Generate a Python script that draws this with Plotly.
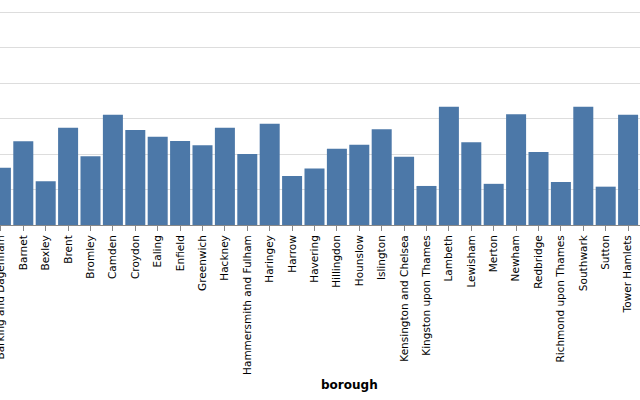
import plotly.graph_objects as go

boroughs = [
    "Barking and Dagenham", "Barnet", "Bexley", "Brent", "Bromley", "Camden",
    "Croydon", "Ealing", "Enfield", "Greenwich", "Hackney",
    "Hammersmith and Fulham", "Haringey", "Harrow", "Havering", "Hillingdon",
    "Hounslow", "Islington", "Kensington and Chelsea", "Kingston upon Thames",
    "Lambeth", "Lewisham", "Merton", "Newham", "Redbridge",
    "Richmond upon Thames", "Southwark", "Sutton", "Tower Hamlets",
]
values = [
    16.1, 23.6, 12.3, 27.4, 19.4, 31.1,
    26.8, 24.9, 23.7, 22.5, 27.4,
    20.0, 28.5, 13.8, 15.9, 21.5,
    22.6, 27.0, 19.2, 11.0,
    33.3, 23.3, 11.6, 31.2, 20.6,
    12.1, 33.3, 10.8, 31.1,
]

fig = go.Figure(
    go.Bar(
        x=boroughs,
        y=values,
        marker=dict(color="#4c78a8", line=dict(width=0)),
        hoverinfo="skip",
    )
)

fig.update_layout(
    width=640,
    height=400,
    margin=dict(l=0, r=0, t=11, b=175, autoexpand=False),
    plot_bgcolor="white",
    paper_bgcolor="white",
    bargap=0.107,
    showlegend=False,
    font=dict(family="DejaVu Sans", size=10.5, color="black"),
    annotations=[
        dict(
            text="<b>borough</b>",
            xref="paper", yref="paper",
            x=349 / 640, y=(225 - 385) / 214,
            xanchor="center", yanchor="middle",
            showarrow=False,
            font=dict(family="DejaVu Sans", size=12, color="black"),
        )
    ],
)

fig.update_xaxes(
    type="category",
    range=[-0.04, 640 / 22.4 - 0.04],
    automargin=False,
    tickangle=-90,
    ticks="outside",
    ticklen=5,
    tickcolor="#888",
    showline=True,
    linecolor="#888",
    linewidth=1,
    showgrid=False,
    tickfont=dict(family="DejaVu Sans", size=10.5, color="black"),
)

fig.update_yaxes(
    range=[0, 60.3],
    tick0=0,
    dtick=10,
    automargin=False,
    showgrid=True,
    gridcolor="#ddd",
    gridwidth=1,
    zeroline=False,
    showticklabels=False,
    ticks="",
)

fig.write_html(
    "out.html",
    config={"displayModeBar": False},
    post_script="document.body.style.margin='0px';document.body.style.overflow='hidden';",
)
